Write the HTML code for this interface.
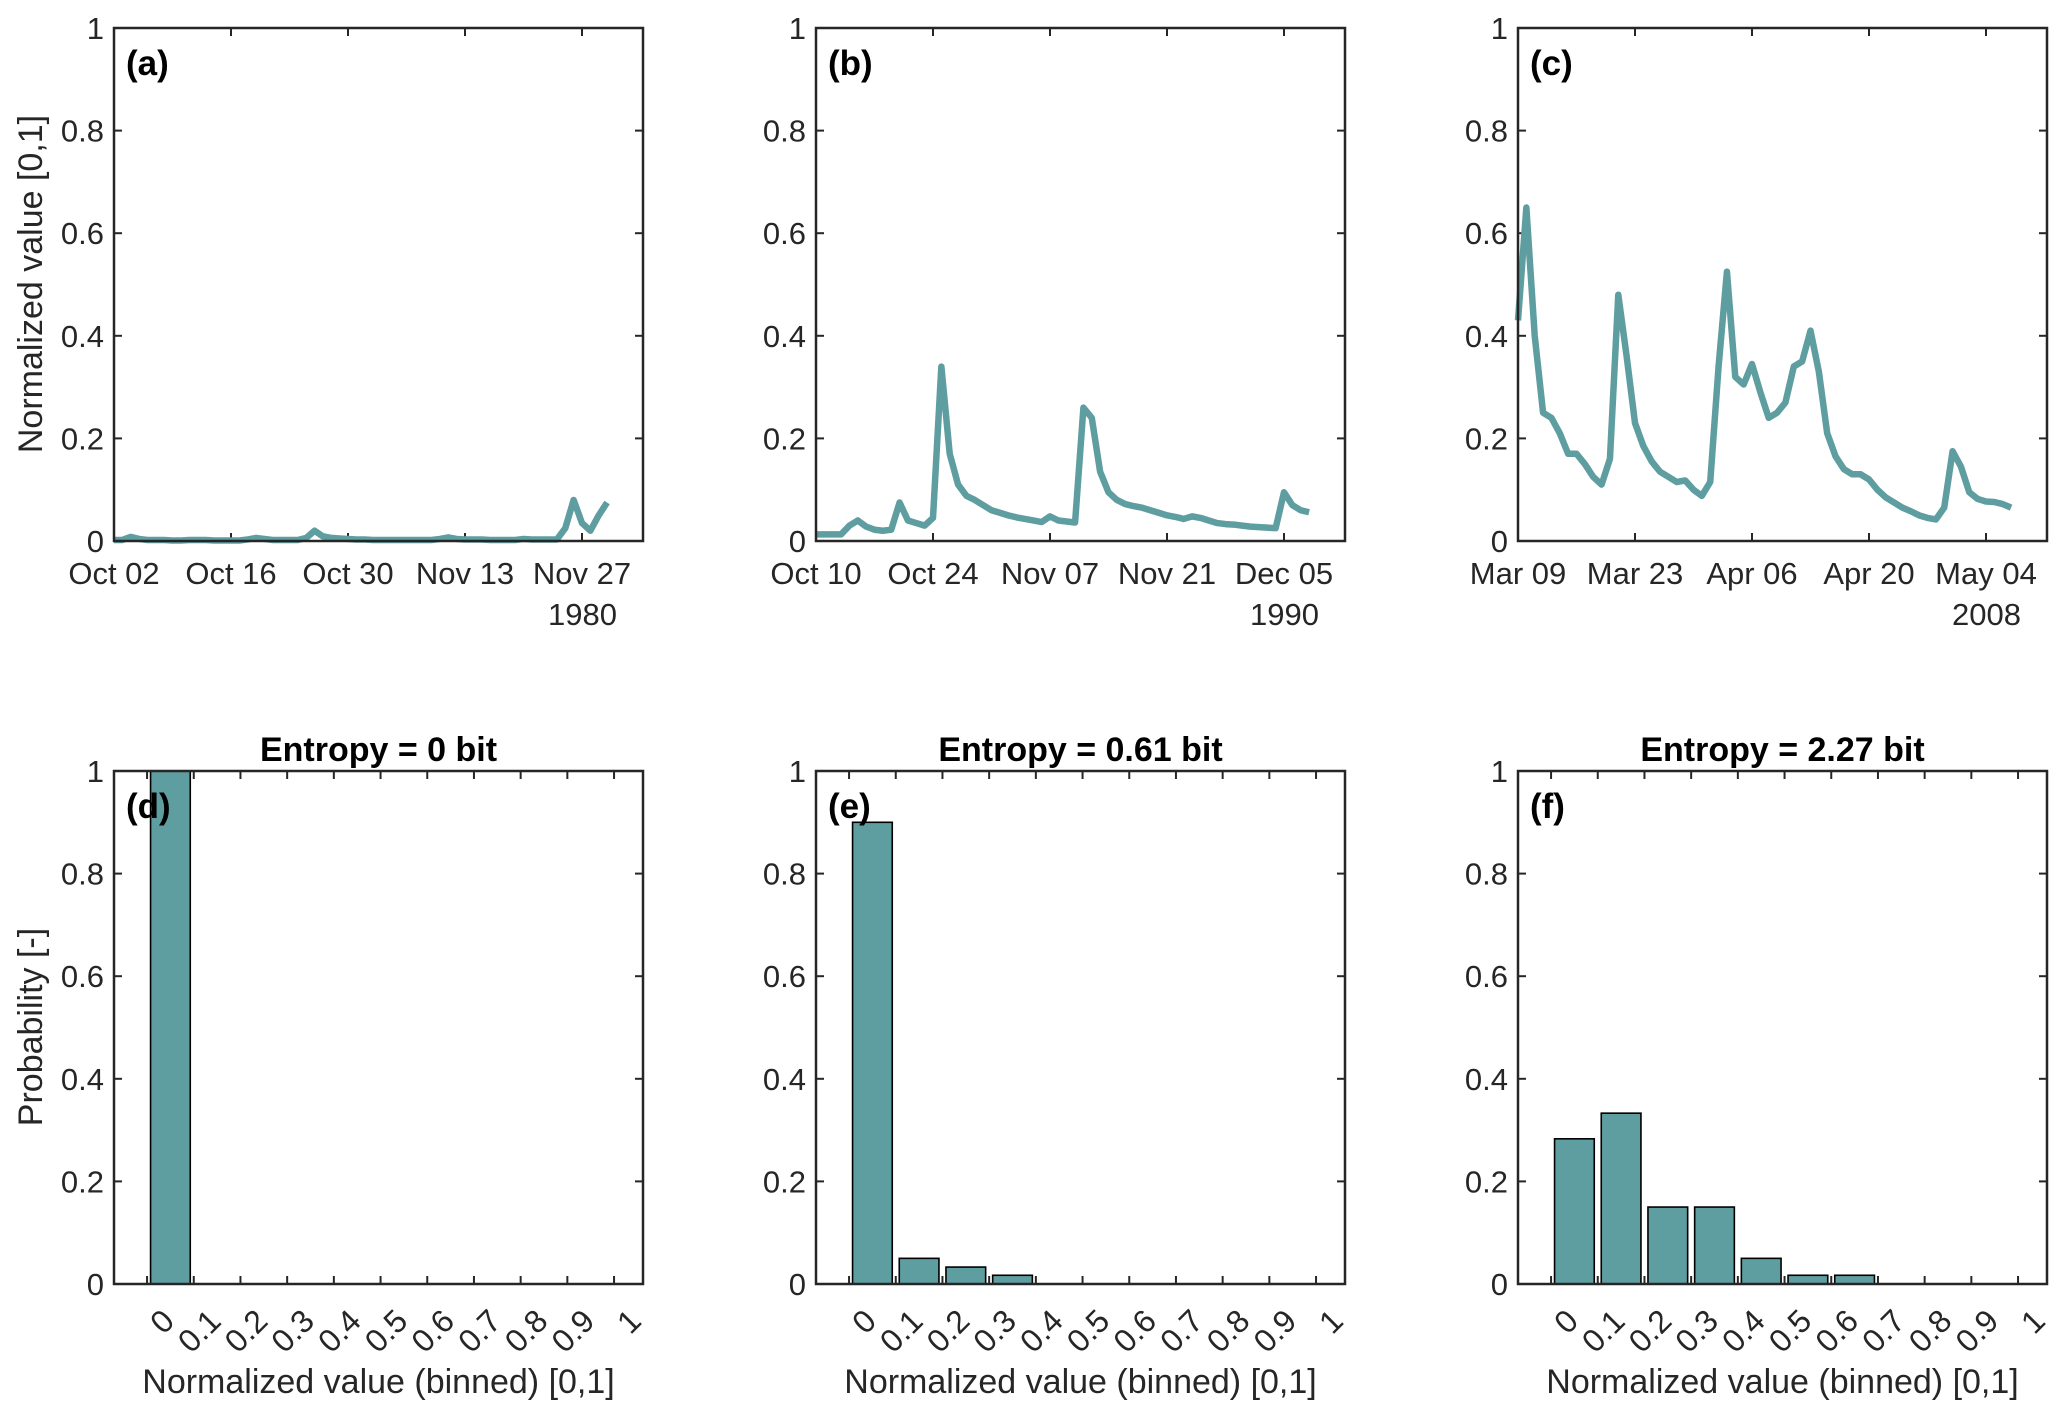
<!DOCTYPE html>
<html><head><meta charset="utf-8"><style>
html,body{margin:0;padding:0;background:#fff;}
svg{display:block;}
text{font-family:"Liberation Sans",Arial,sans-serif;fill:#262626;}
</style></head><body>
<svg id="fig" width="2067" height="1416" viewBox="0 0 2067 1416" xmlns="http://www.w3.org/2000/svg"></svg>
<script>
// ---- data ----
const seriesA = [0.002,0.002,0.008,0.004,0.002,0.002,0.002,0.001,0.001,0.002,0.002,0.002,0.001,0.001,0.001,0.001,0.003,0.006,0.004,0.002,0.002,0.002,0.002,0.006,0.02,0.009,0.006,0.005,0.004,0.003,0.003,0.002,0.002,0.002,0.002,0.002,0.002,0.002,0.002,0.004,0.007,0.004,0.003,0.003,0.003,0.002,0.002,0.002,0.002,0.004,0.003,0.003,0.003,0.003,0.025,0.08,0.035,0.02,0.05,0.075];
const seriesB = [0.013,0.013,0.013,0.013,0.03,0.04,0.028,0.022,0.02,0.022,0.075,0.04,0.035,0.03,0.045,0.34,0.17,0.11,0.088,0.08,0.07,0.06,0.055,0.05,0.046,0.043,0.04,0.037,0.048,0.04,0.038,0.036,0.26,0.24,0.135,0.095,0.08,0.072,0.068,0.065,0.06,0.055,0.05,0.047,0.043,0.048,0.045,0.04,0.035,0.033,0.032,0.03,0.028,0.027,0.026,0.025,0.095,0.07,0.06,0.056];
const seriesC = [0.43,0.65,0.40,0.25,0.24,0.21,0.17,0.17,0.15,0.125,0.11,0.16,0.48,0.36,0.23,0.185,0.155,0.135,0.125,0.115,0.118,0.10,0.088,0.115,0.34,0.525,0.32,0.305,0.345,0.29,0.24,0.25,0.27,0.34,0.35,0.41,0.33,0.21,0.165,0.14,0.13,0.13,0.12,0.10,0.085,0.075,0.065,0.058,0.05,0.045,0.042,0.065,0.175,0.145,0.095,0.082,0.077,0.076,0.072,0.065];
const dateTicksA = ["Oct 02","Oct 16","Oct 30","Nov 13","Nov 27"];
const dateTicksB = ["Oct 10","Oct 24","Nov 07","Nov 21","Dec 05"];
const dateTicksC = ["Mar 09","Mar 23","Apr 06","Apr 20","May 04"];
const tickDays = [0,14,28,42,56];
const years = ["1980","1990","2008"];
const binCenters = [0.05,0.15,0.25,0.35,0.45,0.55,0.65,0.75,0.85,0.95];
const probD = [1.0,0,0,0,0,0,0,0,0,0];
const probE = [0.9,0.05,0.033,0.017,0,0,0,0,0,0];
const probF = [0.283,0.333,0.15,0.15,0.05,0.017,0.017,0,0,0];
const entropies = ["Entropy = 0 bit","Entropy = 0.61 bit","Entropy = 2.27 bit"];
const yTicks = [0,0.2,0.4,0.6,0.8,1];
const yTickLabels = ["0","0.2","0.4","0.6","0.8","1"];
const xBinTicks = [0,0.1,0.2,0.3,0.4,0.5,0.6,0.7,0.8,0.9,1];
const xBinLabels = ["0","0.1","0.2","0.3","0.4","0.5","0.6","0.7","0.8","0.9","1"];

const NS="http://www.w3.org/2000/svg";
const svg=document.getElementById('fig');
function mk(tag,attrs,parent){const e=document.createElementNS(NS,tag);for(const k in attrs)e.setAttribute(k,attrs[k]);(parent||svg).appendChild(e);return e;}
const COL="#5f9ea0";
const lefts=[114,816,1518], W=529;
const tops=[28,771], H=513;
const FS=31;

function axesFrame(g,x0,y0){
  const r=mk('rect',{x:x0,y:y0,width:W,height:H,fill:'none',stroke:'#262626','stroke-width':2.5},g);
  
  
}
function yAxis(g,x0,y0){
  const ys=v=>y0+H-v*H;
  yTicks.forEach((v,i)=>{
    mk('line',{x1:x0,x2:x0+8,y1:ys(v),y2:ys(v),stroke:'#262626','stroke-width':2},g);
    mk('line',{x1:x0+W,x2:x0+W-8,y1:ys(v),y2:ys(v),stroke:'#262626','stroke-width':2},g);
    const t=mk('text',{x:x0-10,y:ys(v)+11,'text-anchor':'end','font-size':FS},g);
    t.textContent=yTickLabels[i];
    
    
  });
}
function panelLabel(g,x0,y0,s){
  const t=mk('text',{x:x0+12,y:y0+47,'font-size':35,'font-weight':'bold'},g);
  t.style.fill='#000';t.textContent=s;
  
  
}

// ---- time series ----
const seriesAll=[seriesA,seriesB,seriesC];
const dateAll=[dateTicksA,dateTicksB,dateTicksC];
const XMAX=63.3;
for(let p=0;p<3;p++){
  const x0=lefts[p],y0=tops[0];
  const g=mk('g',{});
  
  
  const xs=d=>x0+d/XMAX*W, ys=v=>y0+H-v*H;
  yAxis(g,x0,y0);
  tickDays.forEach((d,i)=>{
    mk('line',{x1:xs(d),x2:xs(d),y1:y0+H,y2:y0+H-8,stroke:'#262626','stroke-width':2},g);
    mk('line',{x1:xs(d),x2:xs(d),y1:y0,y2:y0+8,stroke:'#262626','stroke-width':2},g);
    const t=mk('text',{x:xs(d),y:y0+H+43,'text-anchor':'middle','font-size':FS},g);
    t.textContent=dateAll[p][i];
    
    
  });
  const yr=mk('text',{x:xs(56)+35,y:y0+H+84,'text-anchor':'end','font-size':FS},g);
  yr.textContent=years[p];
  
  
  const pts=seriesAll[p].map((v,i)=>xs(i)+','+ys(v)).join(' ');
  const pl=mk('polyline',{points:pts,fill:'none',stroke:COL,'stroke-width':6.5,'stroke-linejoin':'round'},g);
  
  
  axesFrame(g,x0,y0);
  panelLabel(g,x0,y0,'('+'abc'[p]+')');
}
{const t=mk('text',{x:0,y:0,'text-anchor':'middle','font-size':34,transform:'translate(42,284) rotate(-90)'});
t.textContent='Normalized value [0,1]';

}

// ---- histograms ----
const probAll=[probD,probE,probF];
const BXMIN=-0.0708,BXMAX=1.062,BW=0.085;
for(let p=0;p<3;p++){
  const x0=lefts[p],y0=tops[1];
  const g=mk('g',{});
  
  
  const xs=v=>x0+(v-BXMIN)/(BXMAX-BXMIN)*W, ys=v=>y0+H-v*H;
  yAxis(g,x0,y0);
  binCenters.forEach((c,i)=>{
    const v=probAll[p][i]; if(v<=0) return;
    const r=mk('rect',{x:xs(c-BW/2),y:ys(v),width:xs(c+BW/2)-xs(c-BW/2),height:ys(0)-ys(v),fill:COL,stroke:'#000','stroke-width':1.6},g);
    
    
  });
  xBinTicks.forEach((v,i)=>{
    mk('line',{x1:xs(v),x2:xs(v),y1:y0+H,y2:y0+H-8,stroke:'#262626','stroke-width':2},g);
    mk('line',{x1:xs(v),x2:xs(v),y1:y0,y2:y0+8,stroke:'#262626','stroke-width':2},g);
    const tx=xs(v)+12, ty=y0+H+22;
    const t=mk('text',{x:tx,y:ty,'text-anchor':'end','font-size':32,transform:'rotate(-45 '+tx+' '+ty+')'},g);
    t.setAttribute('dy','0.75em');
    t.textContent=xBinLabels[i];
    
    
  });
  axesFrame(g,x0,y0);
  panelLabel(g,x0,y0,'('+'def'[p]+')');
  const tt=mk('text',{x:x0+W/2,y:y0-10,'text-anchor':'middle','font-size':34,'font-weight':'bold'},g);
  tt.style.fill='#000';tt.textContent=entropies[p];
  
  
  const xl=mk('text',{x:x0+W/2,y:y0+H+109,'text-anchor':'middle','font-size':34},g);
  xl.textContent='Normalized value (binned) [0,1]';
  
  
}
{const t=mk('text',{x:0,y:0,'text-anchor':'middle','font-size':34,transform:'translate(42,1027) rotate(-90)'});
t.textContent='Probability [-]';

}
</script>
</body></html>
